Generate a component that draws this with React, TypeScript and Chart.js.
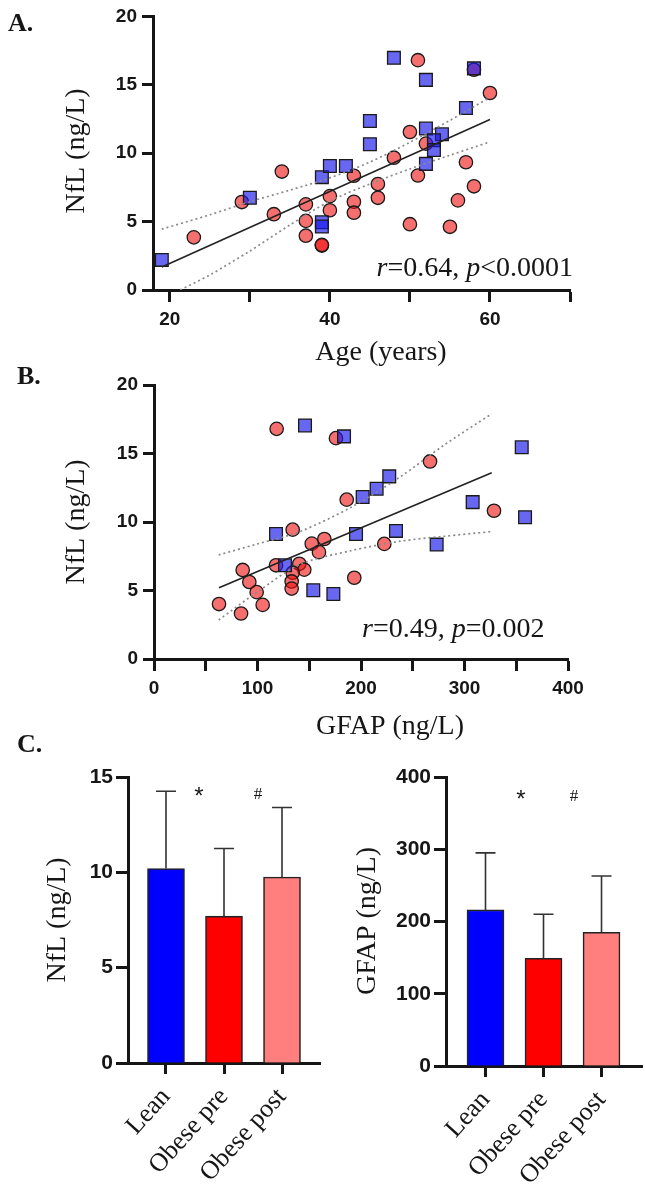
import React, { useEffect, useRef } from 'react';
import { Chart, registerables } from 'chart.js';
Chart.register(...registerables);

const SERIF = '"Liberation Serif", "Times New Roman", serif';
const SANS = '"Liberation Sans", Arial, sans-serif';
const INK = '#161616';
const SQ_FILL = 'rgba(25, 25, 235, 0.66)';
const CIRC_FILL = 'rgba(240, 15, 15, 0.6)';
const EDGE = '#1a1a1a';

// ---------- Panel A: NfL vs Age ----------
const ageLean = [19, 30, 39, 40, 42, 39, 39, 45, 45, 48, 52, 52, 54, 53, 53, 52, 57, 58];
const nflLeanA = [2.2, 6.74, 8.25, 9.07, 9.07, 4.95, 4.64, 12.35, 10.66, 16.97, 15.36, 11.8, 11.38, 10.95, 10.23, 9.22, 13.3, 16.2];
const ageObese = [23, 29, 34, 33, 37, 37, 37, 39, 39, 40, 40, 43, 43, 43, 46, 46, 48, 50, 50, 51, 51, 52, 55, 56, 57, 58, 58, 60];
const nflObeseA = [3.85, 6.43, 8.66, 5.54, 6.26, 5.05, 3.97, 3.25, 3.3, 6.86, 5.83, 8.35, 6.45, 5.65, 7.75, 6.74, 9.67, 11.55, 4.81, 16.8, 8.37, 10.7, 4.62, 6.55, 9.34, 7.58, 16.1, 14.4];
const ageFitX = [19, 60];
const ageFitY = [1.68, 12.47];
const ageUpperX = [19, 25, 30, 35, 40, 45, 50, 55, 60];
const ageUpperY = [4.45, 5.5, 6.45, 7.3, 8.2, 9.35, 10.8, 12.4, 14.08];
const ageLowerX = [21.3, 25, 30, 35, 40, 45, 50, 55, 60];
const ageLowerY = [0, 1.1, 2.85, 4.75, 6.5, 7.75, 8.85, 9.85, 10.83];
const ageTicks = [20, 30, 40, 50, 60, 70];
const ageTickLabels = ['20', '', '40', '', '60', ''];
const nflScatterTicks = [0, 5, 10, 15, 20];

// ---------- Panel B: NfL vs GFAP ----------
const gfapLean = [145.9, 183.6, 355.3, 227.3, 215.1, 201.6, 307.9, 358.5, 117.9, 195.2, 233.8, 273.1, 126.6, 153.9, 173.3];
const nflLeanB = [17.05, 16.25, 15.45, 13.33, 12.43, 11.82, 11.45, 10.35, 9.12, 9.12, 9.35, 8.35, 6.84, 5.02, 4.75];
const gfapObese = [118.5, 175.8, 266.7, 186.2, 328.5, 134, 164.6, 152.4, 159.4, 222.5, 117.9, 140.4, 145.2, 134, 133, 133, 85.7, 92.1, 99.2, 105, 62.8, 84.1, 193.5];
const nflObeseB = [16.8, 16.12, 14.42, 11.63, 10.82, 9.44, 8.76, 8.42, 7.8, 8.4, 6.84, 6.95, 6.52, 6.3, 5.66, 5.14, 6.5, 5.62, 4.88, 3.95, 4.01, 3.32, 5.93];
const gfapFitX = [62.8, 326.3];
const gfapFitY = [5.2, 13.6];
const gfapUpperX = [62.5, 100, 141, 191, 238, 280, 326.3];
const gfapUpperY = [7.6, 8.4, 9.3, 11.1, 13.3, 15.6, 17.9];
const gfapLowerX = [62.5, 100, 141, 190, 238, 280, 326.3];
const gfapLowerY = [2.85, 4.9, 6.9, 7.9, 8.6, 8.95, 9.3];
const gfapTicks = [0, 50, 100, 150, 200, 250, 300, 350, 400];
const gfapTickLabels = ['0', '', '100', '', '200', '', '300', '', '400'];

// ---------- Panel C: group bars ----------
const groups = ['Lean', 'Obese pre', 'Obese post'];
const groupColors = ['#0000ff', '#ff0000', '#ff7f7f'];
const nflMean = [10.2, 7.7, 9.75];
const nflSD = [4.05, 3.55, 3.65];
const gfapMean = [216, 149, 185];
const gfapSD = [79, 61, 78];
const nflBarTicks = [0, 5, 10, 15];
const gfapBarTicks = [0, 100, 200, 300, 400];

type Part = { t: string; italic?: boolean };

const freeText = {
  id: 'freeText',
  afterDraw(chart: any, _a: any, opts: any) {
    const items = (opts && opts.items) || [];
    const ctx = chart.ctx;
    for (const it of items) {
      ctx.save();
      ctx.fillStyle = it.color || INK;
      ctx.textBaseline = it.baseline || 'middle';
      ctx.textAlign = 'left';
      ctx.translate(it.x, it.y);
      if (it.rotate) ctx.rotate((it.rotate * Math.PI) / 180);
      const parts: Part[] = it.parts || [{ t: it.text }];
      const fontOf = (p: Part) => `${p.italic ? 'italic ' : ''}${it.weight || 'normal'} ${it.size}px ${it.family}`;
      let total = 0;
      parts.forEach((p) => {
        ctx.font = fontOf(p);
        total += ctx.measureText(p.t).width;
      });
      let x = it.align === 'center' ? -total / 2 : it.align === 'right' ? -total : 0;
      for (const p of parts) {
        ctx.font = fontOf(p);
        ctx.fillText(p.t, x, 0);
        x += ctx.measureText(p.t).width;
      }
      ctx.restore();
    }
  },
};

const errBars = {
  id: 'errBars',
  afterDatasetsDraw(chart: any, _a: any, opts: any) {
    if (!opts || !opts.sd) return;
    const meta = chart.getDatasetMeta(0);
    const ys = chart.scales.y;
    const ctx = chart.ctx;
    ctx.save();
    ctx.strokeStyle = '#333';
    ctx.lineWidth = 1.6;
    meta.data.forEach((el: any, i: number) => {
      const v = chart.data.datasets[0].data[i].y + opts.sd[i];
      const top = ys.getPixelForValue(v);
      ctx.beginPath();
      ctx.moveTo(el.x, el.y);
      ctx.lineTo(el.x, top);
      ctx.moveTo(el.x - 10, top);
      ctx.lineTo(el.x + 10, top);
      ctx.stroke();
    });
    ctx.restore();
  },
};

const pts = (xs: number[], ys: number[]) => xs.map((x, i) => ({ x, y: ys[i] }));

function axisBase(tickLength: number) {
  return {
    grid: { drawOnChartArea: false, drawTicks: true, tickLength, tickWidth: 3, tickColor: INK, offset: false },
    border: { display: true, color: INK, width: 3 },
  };
}

function scatterConfig(p: any) {
  const { lx, ly, ox, oy, fx, fy, ux, uy, wx, wy, xmin, xmax, xticks, xlabels, yW, xH, pad, texts } = p;
  const lineDs = (xs: number[], ys: number[], dashed: boolean) => ({
    type: 'line',
    data: pts(xs, ys),
    showLine: true,
    borderColor: dashed ? '#8a8a8a' : '#222',
    borderWidth: dashed ? 1.7 : 1.6,
    borderDash: dashed ? [2, 3] : [],
    pointRadius: 0,
    fill: false,
    tension: dashed ? 0.3 : 0,
    order: 0,
  });
  return {
    type: 'scatter',
    data: {
      datasets: [
        { label: 'Lean', data: pts(lx, ly), pointStyle: 'rect', pointRadius: 9, backgroundColor: SQ_FILL, borderColor: EDGE, borderWidth: 1.3, order: 2 },
        { label: 'Obese', data: pts(ox, oy), pointStyle: 'circle', pointRadius: 6.7, backgroundColor: CIRC_FILL, borderColor: EDGE, borderWidth: 1.3, order: 3 },
        lineDs(fx, fy, false),
        lineDs(ux, uy, true),
        lineDs(wx, wy, true),
      ],
    },
    options: {
      responsive: false,
      animation: false,
      devicePixelRatio: 1,
      layout: { padding: pad },
      plugins: { legend: { display: false }, tooltip: { enabled: false }, freeText: { items: texts } },
      scales: {
        x: {
          type: 'linear',
          min: xmin,
          max: xmax,
          ...axisBase(12),
          afterBuildTicks: (s: any) => {
            s.ticks = xticks.map((v: number) => ({ value: v }));
          },
          afterFit: (s: any) => {
            s.height = xH;
          },
          ticks: {
            autoSkip: false,
            maxRotation: 0,
            minRotation: 0,
            padding: 6,
            color: INK,
            font: { family: SANS, size: 19, weight: 'bold' },
            callback: (v: number) => xlabels[xticks.indexOf(v)] ?? '',
          },
        },
        y: {
          type: 'linear',
          min: 0,
          max: 20,
          ...axisBase(11),
          afterBuildTicks: (s: any) => {
            s.ticks = nflScatterTicks.map((v) => ({ value: v }));
          },
          afterFit: (s: any) => {
            s.width = yW;
          },
          ticks: { padding: 5, color: INK, font: { family: SANS, size: 19, weight: 'bold' } },
        },
      },
    },
    plugins: [freeText],
  };
}

function barConfig(p: any) {
  const { mean, sd, ymax, yticks, xmin, xmax, yW, xH, pad, texts } = p;
  return {
    type: 'bar',
    data: {
      datasets: [
        {
          data: mean.map((m: number, i: number) => ({ x: i, y: m })),
          backgroundColor: groupColors,
          borderColor: '#222',
          borderWidth: 1.6,
          barThickness: 37,
        },
      ],
    },
    options: {
      responsive: false,
      animation: false,
      devicePixelRatio: 1,
      layout: { padding: pad },
      plugins: { legend: { display: false }, tooltip: { enabled: false }, freeText: { items: texts }, errBars: { sd } },
      scales: {
        x: {
          type: 'linear',
          offset: false,
          min: xmin,
          max: xmax,
          ...axisBase(11),
          afterBuildTicks: (s: any) => {
            s.ticks = groups.map((_g, i) => ({ value: i }));
          },
          afterFit: (s: any) => {
            s.height = xH;
          },
          ticks: {
            autoSkip: false,
            maxRotation: 48,
            minRotation: 48,
            padding: 8,
            color: INK,
            font: { family: SERIF, size: 26 },
            callback: (v: number) => groups[v] ?? '',
          },
        },
        y: {
          type: 'linear',
          min: 0,
          max: ymax,
          ...axisBase(12),
          afterBuildTicks: (s: any) => {
            s.ticks = yticks.map((v: number) => ({ value: v }));
          },
          afterFit: (s: any) => {
            s.width = yW;
          },
          ticks: { padding: 3, color: INK, font: { family: SANS, size: 21, weight: 'bold' } },
        },
      },
    },
    plugins: [freeText, errBars],
  };
}

const rText = (a: string, b: string) => [{ t: 'r', italic: true }, { t: a }, { t: 'p', italic: true }, { t: b }];

function ChartCanvas({ config, left, top, width, height }: any) {
  const ref = useRef<HTMLCanvasElement | null>(null);
  useEffect(() => {
    if (!ref.current) return;
    const chart = new Chart(ref.current, config);
    return () => chart.destroy();
  }, []);
  return (
    <canvas
      ref={ref}
      width={width}
      height={height}
      style={{ position: 'absolute', left, top, width, height }}
    />
  );
}

export default function App() {
  const cfgA = scatterConfig({
    lx: ageLean, ly: nflLeanA, ox: ageObese, oy: nflObeseA,
    fx: ageFitX, fy: ageFitY, ux: ageUpperX, uy: ageUpperY, wx: ageLowerX, wy: ageLowerY,
    xmin: 17.9, xmax: 70, xticks: ageTicks, xlabels: ageTickLabels,
    yW: 153, xH: 375 - 290, pad: { left: 0, top: 13, right: 645 - 570, bottom: 0 },
    texts: [
      { text: 'A.', x: 8, y: 24, size: 26, weight: 'bold', family: SERIF },
      { text: 'NfL (ng/L)', x: 77, y: 151, size: 28, family: SERIF, align: 'center', rotate: -90 },
      { text: 'Age (years)', x: 381, y: 353, size: 28, family: SERIF, align: 'center' },
      { parts: rText('=0.64, ', '<0.0001'), x: 573, y: 276, size: 28, family: SERIF, align: 'right', baseline: 'alphabetic' },
    ],
  });
  const cfgB = scatterConfig({
    lx: gfapLean, ly: nflLeanB, ox: gfapObese, oy: nflObeseB,
    fx: gfapFitX, fy: gfapFitY, ux: gfapUpperX, uy: gfapUpperY, wx: gfapLowerX, wy: gfapLowerY,
    xmin: 0, xmax: 400, xticks: gfapTicks, xlabels: gfapTickLabels,
    yW: 154, xH: 395 - 304, pad: { left: 0, top: 30, right: 645 - 568, bottom: 0 },
    texts: [
      { text: 'B.', x: 17, y: 22, size: 26, weight: 'bold', family: SERIF },
      { text: 'NfL (ng/L)', x: 77, y: 167, size: 28, family: SERIF, align: 'center', rotate: -90 },
      { text: 'GFAP (ng/L)', x: 390, y: 372, size: 28, family: SERIF, align: 'center' },
      { parts: rText('=0.49, ', '=0.002'), x: 362, y: 282, size: 28, family: SERIF, align: 'left', baseline: 'alphabetic' },
    ],
  });
  const cfgC1 = barConfig({
    mean: nflMean, sd: nflSD, ymax: 15, yticks: nflBarTicks,
    xmin: -0.655, xmax: 2.655, yW: 128, xH: 471 - 333, pad: { left: 0, top: 47, right: 2, bottom: 0 },
    texts: [
      { text: 'C.', x: 17, y: 15, size: 26, weight: 'bold', family: SERIF },
      { text: 'NfL (ng/L)', x: 58, y: 190, size: 28, family: SERIF, align: 'center', rotate: -90 },
      { text: '*', x: 199, y: 74, size: 24, family: SANS, align: 'center', baseline: 'alphabetic' },
      { text: '#', x: 258, y: 69, size: 17, family: SERIF, align: 'center', baseline: 'alphabetic' },
    ],
  });
  const cfgC2 = barConfig({
    mean: gfapMean, sd: gfapSD, ymax: 400, yticks: gfapBarTicks,
    xmin: -0.681, xmax: 2.698, yW: 124, xH: 471 - 336, pad: { left: 0, top: 47, right: 3, bottom: 0 },
    texts: [
      { text: 'GFAP (ng/L)', x: 46, y: 191, size: 28, family: SERIF, align: 'center', rotate: -90 },
      { text: '*', x: 199, y: 77, size: 24, family: SANS, align: 'center', baseline: 'alphabetic' },
      { text: '#', x: 252, y: 71, size: 17, family: SERIF, align: 'center', baseline: 'alphabetic' },
    ],
  });
  return (
    <div style={{ position: 'absolute', left: 0, top: 0, width: 645, height: 1201, background: '#fff' }}>
      <ChartCanvas config={cfgA} left={0} top={0} width={645} height={375} />
      <ChartCanvas config={cfgB} left={0} top={355} width={645} height={395} />
      <ChartCanvas config={cfgC1} left={0} top={730} width={322} height={471} />
      <ChartCanvas config={cfgC2} left={322} top={730} width={323} height={471} />
    </div>
  );
}
